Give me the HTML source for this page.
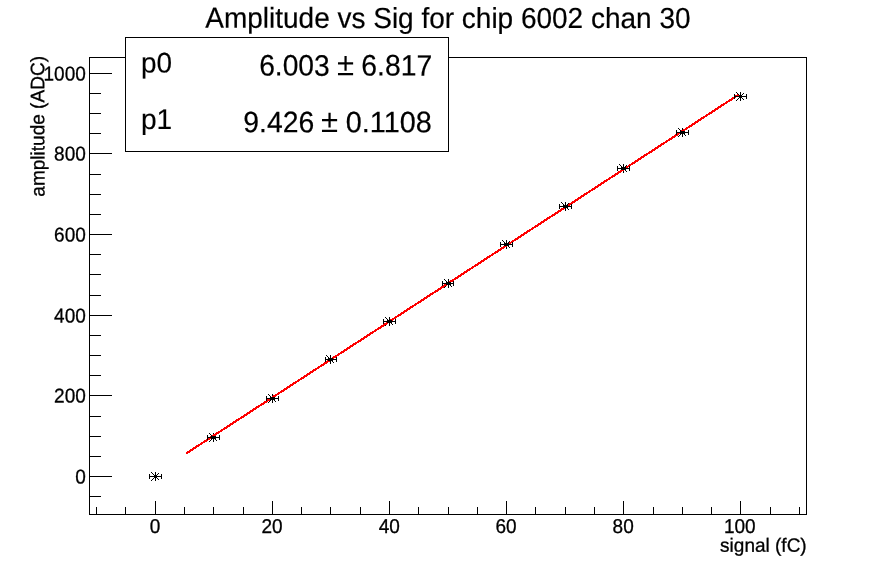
<!DOCTYPE html>
<html><head><meta charset="utf-8"><title>Amplitude vs Sig for chip 6002 chan 30</title>
<style>
html,body{margin:0;padding:0;background:#fff;}
svg{display:block}
text{font-family:"Liberation Sans",Arial,Helvetica,sans-serif;fill:#000;stroke:#000;stroke-width:0.3px;text-rendering:geometricPrecision}
</style></head><body>
<svg width="896" height="572" viewBox="0 0 896 572">
<rect width="896" height="572" fill="#fff"/>
<rect x="89.5" y="57.5" width="717.0" height="457.0" fill="none" stroke="#000" stroke-width="1"/>
<path d="M96.5 514.5v-7.5M125.5 514.5v-7.5M155.5 514.5v-13.5M184.5 514.5v-7.5M213.5 514.5v-7.5M243.5 514.5v-7.5M272.5 514.5v-13.5M301.5 514.5v-7.5M330.5 514.5v-7.5M360.5 514.5v-7.5M389.5 514.5v-13.5M418.5 514.5v-7.5M448.5 514.5v-7.5M477.5 514.5v-7.5M506.5 514.5v-13.5M535.5 514.5v-7.5M565.5 514.5v-7.5M594.5 514.5v-7.5M623.5 514.5v-13.5M653.5 514.5v-7.5M682.5 514.5v-7.5M711.5 514.5v-7.5M740.5 514.5v-13.5M770.5 514.5v-7.5M799.5 514.5v-7.5M89.5 496.5h11.5M89.5 476.5h22.5M89.5 456.5h11.5M89.5 436.5h11.5M89.5 416.5h11.5M89.5 395.5h22.5M89.5 375.5h11.5M89.5 355.5h11.5M89.5 335.5h11.5M89.5 315.5h22.5M89.5 295.5h11.5M89.5 274.5h11.5M89.5 254.5h11.5M89.5 234.5h22.5M89.5 214.5h11.5M89.5 194.5h11.5M89.5 174.5h11.5M89.5 153.5h22.5M89.5 133.5h11.5M89.5 113.5h11.5M89.5 93.5h11.5M89.5 73.5h22.5" stroke="#000" stroke-width="1" fill="none"/>
<path d="M155 472h1v9h-1zM151 476h9v1h-9zM151 472h1v1h-1zM151 480h1v1h-1zM152 473h1v1h-1zM152 479h1v1h-1zM153 474h1v1h-1zM153 478h1v1h-1zM154 475h1v1h-1zM154 477h1v1h-1zM155 476h1v1h-1zM155 476h1v1h-1zM156 477h1v1h-1zM156 475h1v1h-1zM157 478h1v1h-1zM157 474h1v1h-1zM158 479h1v1h-1zM158 473h1v1h-1zM213 433h1v9h-1zM209 437h9v1h-9zM209 433h1v1h-1zM209 441h1v1h-1zM210 434h1v1h-1zM210 440h1v1h-1zM211 435h1v1h-1zM211 439h1v1h-1zM212 436h1v1h-1zM212 438h1v1h-1zM213 437h1v1h-1zM213 437h1v1h-1zM214 438h1v1h-1zM214 436h1v1h-1zM215 439h1v1h-1zM215 435h1v1h-1zM216 440h1v1h-1zM216 434h1v1h-1zM272 394h1v9h-1zM268 398h9v1h-9zM268 394h1v1h-1zM268 402h1v1h-1zM269 395h1v1h-1zM269 401h1v1h-1zM270 396h1v1h-1zM270 400h1v1h-1zM271 397h1v1h-1zM271 399h1v1h-1zM272 398h1v1h-1zM272 398h1v1h-1zM273 399h1v1h-1zM273 397h1v1h-1zM274 400h1v1h-1zM274 396h1v1h-1zM275 401h1v1h-1zM275 395h1v1h-1zM330 355h1v9h-1zM326 359h9v1h-9zM326 355h1v1h-1zM326 363h1v1h-1zM327 356h1v1h-1zM327 362h1v1h-1zM328 357h1v1h-1zM328 361h1v1h-1zM329 358h1v1h-1zM329 360h1v1h-1zM330 359h1v1h-1zM330 359h1v1h-1zM331 360h1v1h-1zM331 358h1v1h-1zM332 361h1v1h-1zM332 357h1v1h-1zM333 362h1v1h-1zM333 356h1v1h-1zM389 317h1v9h-1zM385 321h9v1h-9zM385 317h1v1h-1zM385 325h1v1h-1zM386 318h1v1h-1zM386 324h1v1h-1zM387 319h1v1h-1zM387 323h1v1h-1zM388 320h1v1h-1zM388 322h1v1h-1zM389 321h1v1h-1zM389 321h1v1h-1zM390 322h1v1h-1zM390 320h1v1h-1zM391 323h1v1h-1zM391 319h1v1h-1zM392 324h1v1h-1zM392 318h1v1h-1zM448 279h1v9h-1zM444 283h9v1h-9zM444 279h1v1h-1zM444 287h1v1h-1zM445 280h1v1h-1zM445 286h1v1h-1zM446 281h1v1h-1zM446 285h1v1h-1zM447 282h1v1h-1zM447 284h1v1h-1zM448 283h1v1h-1zM448 283h1v1h-1zM449 284h1v1h-1zM449 282h1v1h-1zM450 285h1v1h-1zM450 281h1v1h-1zM451 286h1v1h-1zM451 280h1v1h-1zM506 240h1v9h-1zM502 244h9v1h-9zM502 240h1v1h-1zM502 248h1v1h-1zM503 241h1v1h-1zM503 247h1v1h-1zM504 242h1v1h-1zM504 246h1v1h-1zM505 243h1v1h-1zM505 245h1v1h-1zM506 244h1v1h-1zM506 244h1v1h-1zM507 245h1v1h-1zM507 243h1v1h-1zM508 246h1v1h-1zM508 242h1v1h-1zM509 247h1v1h-1zM509 241h1v1h-1zM565 202h1v9h-1zM561 206h9v1h-9zM561 202h1v1h-1zM561 210h1v1h-1zM562 203h1v1h-1zM562 209h1v1h-1zM563 204h1v1h-1zM563 208h1v1h-1zM564 205h1v1h-1zM564 207h1v1h-1zM565 206h1v1h-1zM565 206h1v1h-1zM566 207h1v1h-1zM566 205h1v1h-1zM567 208h1v1h-1zM567 204h1v1h-1zM568 209h1v1h-1zM568 203h1v1h-1zM623 164h1v9h-1zM619 168h9v1h-9zM619 164h1v1h-1zM619 172h1v1h-1zM620 165h1v1h-1zM620 171h1v1h-1zM621 166h1v1h-1zM621 170h1v1h-1zM622 167h1v1h-1zM622 169h1v1h-1zM623 168h1v1h-1zM623 168h1v1h-1zM624 169h1v1h-1zM624 167h1v1h-1zM625 170h1v1h-1zM625 166h1v1h-1zM626 171h1v1h-1zM626 165h1v1h-1zM682 128h1v9h-1zM678 132h9v1h-9zM678 128h1v1h-1zM678 136h1v1h-1zM679 129h1v1h-1zM679 135h1v1h-1zM680 130h1v1h-1zM680 134h1v1h-1zM681 131h1v1h-1zM681 133h1v1h-1zM682 132h1v1h-1zM682 132h1v1h-1zM683 133h1v1h-1zM683 131h1v1h-1zM684 134h1v1h-1zM684 130h1v1h-1zM685 135h1v1h-1zM685 129h1v1h-1zM740 92h1v9h-1zM736 96h9v1h-9zM736 92h1v1h-1zM736 100h1v1h-1zM737 93h1v1h-1zM737 99h1v1h-1zM738 94h1v1h-1zM738 98h1v1h-1zM739 95h1v1h-1zM739 97h1v1h-1zM740 96h1v1h-1zM740 96h1v1h-1zM741 97h1v1h-1zM741 95h1v1h-1zM742 98h1v1h-1zM742 94h1v1h-1zM743 99h1v1h-1zM743 93h1v1h-1z" fill="#000" shape-rendering="crispEdges"/>
<line x1="186.29" y1="453.39" x2="738.51" y2="94.73" stroke="#f00" stroke-width="2.15" shape-rendering="crispEdges"/>
<path d="M149 476h13v1h-13zM149 474h1v5h-1zM161 474h1v5h-1zM207 437h13v1h-13zM207 435h1v5h-1zM219 435h1v5h-1zM211 436h5v3h-5zM266 398h13v1h-13zM266 396h1v5h-1zM278 396h1v5h-1zM270 397h5v3h-5zM325 359h12v1h-12zM325 357h1v5h-1zM336 357h1v5h-1zM328 358h5v3h-5zM383 321h13v1h-13zM383 319h1v5h-1zM395 319h1v5h-1zM387 320h5v3h-5zM442 283h12v1h-12zM442 281h1v5h-1zM453 281h1v5h-1zM446 282h5v3h-5zM500 244h13v1h-13zM500 242h1v5h-1zM512 242h1v5h-1zM504 243h5v3h-5zM559 206h13v1h-13zM559 204h1v5h-1zM571 204h1v5h-1zM563 205h5v3h-5zM617 168h13v1h-13zM617 166h1v5h-1zM629 166h1v5h-1zM621 167h5v3h-5zM676 132h13v1h-13zM676 130h1v5h-1zM688 130h1v5h-1zM680 131h5v3h-5zM734 96h13v1h-13zM734 94h1v5h-1zM746 94h1v5h-1z" fill="#000" shape-rendering="crispEdges"/>
<rect x="125.5" y="37.5" width="323" height="114" fill="#fff" stroke="#000" stroke-width="1"/>
<text transform="translate(205.30,27.8) rotate(0.03)" font-size="29.0" style="stroke-width:0.2px" textLength="485.20" lengthAdjust="spacingAndGlyphs">Amplitude vs Sig for chip 6002 chan 30</text>
<text transform="translate(149.86,533.1) rotate(0.03)" font-size="20" textLength="10.57" lengthAdjust="spacingAndGlyphs">0</text>
<text transform="translate(261.42,533.1) rotate(0.03)" font-size="20" textLength="21.13" lengthAdjust="spacingAndGlyphs">20</text>
<text transform="translate(378.72,533.1) rotate(0.03)" font-size="20" textLength="21.13" lengthAdjust="spacingAndGlyphs">40</text>
<text transform="translate(495.42,533.1) rotate(0.03)" font-size="20" textLength="21.13" lengthAdjust="spacingAndGlyphs">60</text>
<text transform="translate(612.57,533.1) rotate(0.03)" font-size="20" textLength="21.13" lengthAdjust="spacingAndGlyphs">80</text>
<text transform="translate(723.99,533.1) rotate(0.03)" font-size="20" textLength="31.70" lengthAdjust="spacingAndGlyphs">100</text>
<text transform="translate(75.21,483.4) rotate(0.03)" font-size="20" textLength="10.57" lengthAdjust="spacingAndGlyphs">0</text>
<text transform="translate(54.07,402.4) rotate(0.03)" font-size="20" textLength="31.70" lengthAdjust="spacingAndGlyphs">200</text>
<text transform="translate(54.07,322.4) rotate(0.03)" font-size="20" textLength="31.70" lengthAdjust="spacingAndGlyphs">400</text>
<text transform="translate(54.07,241.4) rotate(0.03)" font-size="20" textLength="31.70" lengthAdjust="spacingAndGlyphs">600</text>
<text transform="translate(54.07,160.4) rotate(0.03)" font-size="20" textLength="31.70" lengthAdjust="spacingAndGlyphs">800</text>
<text transform="translate(43.51,80.4) rotate(0.03)" font-size="20" textLength="42.27" lengthAdjust="spacingAndGlyphs">1000</text>
<text transform="translate(720.10,551.8) rotate(0.03)" font-size="19.2" textLength="86.58" lengthAdjust="spacingAndGlyphs">signal (fC)</text>
<text transform="translate(140.96,72.5) rotate(0.03)" font-size="28.5" style="stroke-width:0.15px" textLength="31.04" lengthAdjust="spacingAndGlyphs">p0</text>
<text transform="translate(140.95,129.0) rotate(0.03)" font-size="28.5" style="stroke-width:0.15px" textLength="31.23" lengthAdjust="spacingAndGlyphs">p1</text>
<text transform="translate(259.18,75.6) rotate(0.03)" font-size="29.6" style="stroke-width:0.2px" textLength="70.56" lengthAdjust="spacingAndGlyphs">6.003</text>
<text transform="translate(361.27,75.6) rotate(0.03)" font-size="29.6" style="stroke-width:0.2px" textLength="70.88" lengthAdjust="spacingAndGlyphs">6.817</text>
<text transform="translate(243.37,132.2) rotate(0.03)" font-size="29.6" style="stroke-width:0.2px" textLength="70.88" lengthAdjust="spacingAndGlyphs">9.426</text>
<text transform="translate(345.80,132.2) rotate(0.03)" font-size="29.6" style="stroke-width:0.2px" textLength="85.97" lengthAdjust="spacingAndGlyphs">0.1108</text>
<text transform="translate(336.93,75.2) rotate(0.03)" font-size="32.2" font-family="Liberation Serif, serif" style="stroke:none" textLength="17.11" lengthAdjust="spacingAndGlyphs">±</text>
<text transform="translate(321.03,131.9) rotate(0.03)" font-size="32.2" font-family="Liberation Serif, serif" style="stroke:none" textLength="17.11" lengthAdjust="spacingAndGlyphs">±</text>
<text transform="translate(44.4,196.69) rotate(-90.03)" font-size="19.5" textLength="140.68" lengthAdjust="spacingAndGlyphs">amplitude (ADC)</text>
</svg>
</body></html>
